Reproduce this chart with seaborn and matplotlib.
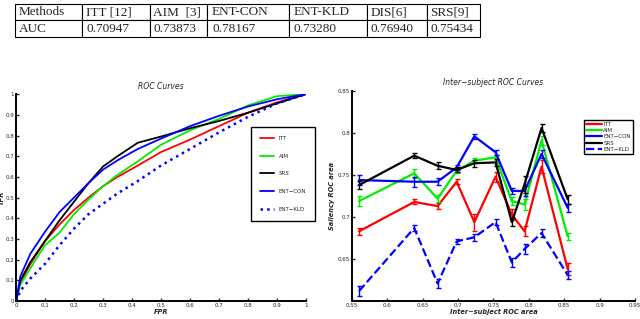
import numpy as np
import pandas as pd
import seaborn as sns
import matplotlib.pyplot as plt

# table
methods = ['Methods', 'ITT [12]', 'AIM  [3]', 'ENT-CON', 'ENT-KLD', 'DIS[6]', 'SRS[9]']
auc = ['AUC', '0.70947', '0.73873', '0.78167', '0.73280', '0.76940', '0.75434']

# ROC curves (FPR, TPR)
fpr = [0, 0.015, 0.05, 0.1, 0.15, 0.2, 0.25, 0.3, 0.35, 0.42, 0.5, 0.6, 0.7, 0.8, 0.9, 1.0]
tpr_itt = [0, 0.09, 0.18, 0.29, 0.37, 0.44, 0.50, 0.555, 0.60, 0.655, 0.72, 0.78, 0.845, 0.91, 0.96, 1.0]
tpr_aim = [0, 0.08, 0.16, 0.27, 0.33, 0.42, 0.49, 0.555, 0.61, 0.675, 0.755, 0.825, 0.88, 0.945, 0.99, 1.0]
tpr_srs = [0, 0.10, 0.19, 0.29, 0.39, 0.48, 0.57, 0.65, 0.70, 0.765, 0.795, 0.835, 0.87, 0.91, 0.955, 1.0]
tpr_con = [0, 0.12, 0.23, 0.335, 0.43, 0.50, 0.57, 0.635, 0.68, 0.735, 0.785, 0.845, 0.895, 0.94, 0.975, 1.0]
tpr_kld = [0, 0.05, 0.11, 0.18, 0.27, 0.35, 0.42, 0.47, 0.52, 0.58, 0.655, 0.735, 0.815, 0.89, 0.955, 1.0]

# inter-subject ROC
inter = [0.560, 0.638, 0.671, 0.698, 0.723, 0.753, 0.776, 0.794, 0.818, 0.855]
sal_itt = [0.683, 0.718, 0.713, 0.742, 0.694, 0.748, 0.703, 0.683, 0.760, 0.638]
sal_aim = [0.719, 0.752, 0.722, 0.755, 0.767, 0.771, 0.719, 0.715, 0.791, 0.677]
sal_con = [0.744, 0.742, 0.742, 0.759, 0.796, 0.777, 0.731, 0.731, 0.775, 0.711]
sal_srs = [0.738, 0.773, 0.761, 0.756, 0.764, 0.765, 0.694, 0.739, 0.806, 0.721]
sal_kld = [0.612, 0.687, 0.621, 0.671, 0.676, 0.694, 0.646, 0.662, 0.681, 0.631]
err_itt = [0.004, 0.003, 0.004, 0.003, 0.010, 0.006, 0.006, 0.006, 0.008, 0.007]
err_aim = [0.006, 0.005, 0.004, 0.003, 0.003, 0.003, 0.005, 0.007, 0.005, 0.004]
err_con = [0.006, 0.006, 0.004, 0.003, 0.003, 0.003, 0.004, 0.006, 0.005, 0.005]
err_srs = [0.005, 0.003, 0.004, 0.003, 0.004, 0.004, 0.005, 0.010, 0.005, 0.005]
err_kld = [0.006, 0.004, 0.005, 0.003, 0.004, 0.004, 0.005, 0.006, 0.005, 0.005]

sns.set_style("white")
plt.rcParams['font.family'] = ['DejaVu Sans']
fig = plt.figure(figsize=(6.4, 3.19), dpi=100)

# --- table ---
tax = fig.add_axes([0.0234, 0.884, 0.727, 0.104])
tax.axis('off')
widths = np.array([67, 68, 57, 82, 78, 60, 53], dtype=float)
tbl = tax.table(cellText=[methods, auc], colWidths=list(widths / widths.sum()),
                cellLoc='left', bbox=[0, 0, 1, 1])
tbl.auto_set_font_size(False)
for cell in tbl.get_celld().values():
    cell.set_linewidth(0.8)
    cell.get_text().set_fontsize(9.5)
    cell.get_text().set_fontfamily('Liberation Serif')
    cell.PAD = 0.06

def style(ax):
    sns.despine(ax=ax)
    for s in ['left', 'bottom']:
        ax.spines[s].set_linewidth(1.4)
        ax.spines[s].set_color('black')
    ax.tick_params(direction='in', length=2.5, width=1, labelsize=4, pad=1.5,
                   left=True, bottom=True)

# --- ROC curves ---
ax1 = fig.add_axes([0.025, 0.056, 0.453, 0.649])
roc = pd.DataFrame({'FPR': fpr, 'ITT': tpr_itt, 'AIM': tpr_aim, 'SRS': tpr_srs,
                    'ENT-CON': tpr_con, 'ENT-KLD': tpr_kld})
for name, color, ls in [('ITT', '#ff0000', '-'), ('AIM', '#00ee00', '-'),
                        ('SRS', '#000000', '-'), ('ENT-CON', '#0000ff', '-'),
                        ('ENT-KLD', '#0000ff', ':')]:
    lw = 1.8 if ls == ':' else 1.3
    sns.lineplot(data=roc, x='FPR', y=name, ax=ax1, color=color, linestyle=ls,
                 linewidth=lw, label=name.replace('-', '\u2212'))
ax1.set_xlim(0, 1)
ax1.set_ylim(0, 1)
ax1.set_xticks(np.linspace(0, 1, 11))
ax1.set_yticks(np.linspace(0, 1, 11))
ax1.set_xticklabels(['0', '0.1', '0.2', '0.3', '0.4', '0.5', '0.6', '0.7', '0.8', '0.9', '1'])
ax1.set_yticklabels(['0', '0.1', '0.2', '0.3', '0.4', '0.5', '0.6', '0.7', '0.8', '0.9', '1'])
style(ax1)
ax1.set_title('ROC Curves', fontsize=5.5, style='italic', pad=4)
ax1.set_xlabel('FPR', fontsize=4.8, style='italic', fontweight='bold', labelpad=0.5)
ax1.set_ylabel('TPR', fontsize=4.8, style='italic', fontweight='bold', labelpad=0.5)
leg1 = ax1.legend(loc='upper left', bbox_to_anchor=(0.8, 0.855), fontsize=4,
                  labelspacing=2.3, handlelength=2.6, borderpad=1.6,
                  fancybox=False, framealpha=1, edgecolor='black')
leg1.get_frame().set_linewidth(1.0)
leg1.get_texts()[2].set_fontstyle('italic')

# --- inter-subject ---
ax2 = fig.add_axes([0.55, 0.056, 0.442, 0.659])
inter_df = pd.DataFrame({'x': inter, 'ITT': sal_itt, 'AIM': sal_aim, 'ENT-CON': sal_con,
                         'SRS': sal_srs, 'ENT-KLD': sal_kld})
errs = {'ITT': err_itt, 'AIM': err_aim, 'ENT-CON': err_con, 'SRS': err_srs, 'ENT-KLD': err_kld}
for name, color, ls in [('ITT', '#ff0000', '-'), ('AIM', '#00ee00', '-'),
                        ('ENT-CON', '#0000ff', '-'), ('SRS', '#000000', '-'),
                        ('ENT-KLD', '#0000ff', '--')]:
    sns.lineplot(data=inter_df, x='x', y=name, ax=ax2, color=color, linestyle=ls,
                 linewidth=1.6, label=name.replace('-', '\u2212'))
    ax2.errorbar(inter, inter_df[name], yerr=errs[name], fmt='none', ecolor=color,
                 elinewidth=1.0, capsize=1.8, capthick=1.0)
ax2.set_xlim(0.55, 0.95)
ax2.set_ylim(0.6, 0.85)
ax2.set_xticks([0.55, 0.6, 0.65, 0.7, 0.75, 0.8, 0.85, 0.9, 0.95])
ax2.set_xticklabels(['0.55', '0.6', '0.65', '0.7', '0.75', '0.8', '0.85', '0.9', '0.95'])
ax2.set_yticks([0.65, 0.7, 0.75, 0.8, 0.85])
ax2.set_yticklabels(['0.65', '0.7', '0.75', '0.8', '0.85'])
style(ax2)
ax2.set_title('Inter\u2212subject ROC Curves', fontsize=5.5, style='italic', pad=4)
ax2.set_xlabel('Inter\u2212subject ROC area', fontsize=4.8, style='italic', fontweight='bold', labelpad=0.5)
ax2.set_ylabel('Saliency ROC area', fontsize=4.8, style='italic', fontweight='bold', labelpad=2)
leg2 = ax2.legend(loc='upper left', bbox_to_anchor=(0.812, 0.875), fontsize=4,
                  labelspacing=0.25, handlelength=2.8, borderpad=0.3, handletextpad=0.3,
                  fancybox=False, framealpha=1, edgecolor='black')
leg2.get_frame().set_linewidth(1.0)

fig.savefig('out.png', dpi=100)
